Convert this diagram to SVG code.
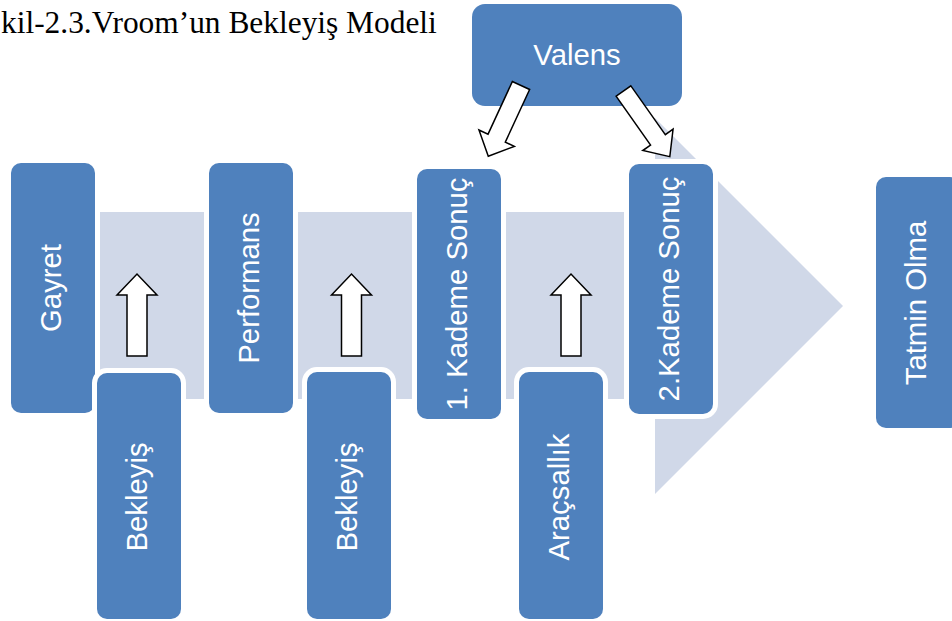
<svg xmlns="http://www.w3.org/2000/svg" width="952" height="621" viewBox="0 0 952 621">
<defs>
<style>
.box{fill:#4F81BD;stroke:#FFFFFF;stroke-width:10;paint-order:stroke}
.lbl{font-family:"Liberation Sans",Arial,sans-serif;font-size:29.3px;fill:#FFFFFF;text-anchor:middle}
.hollow{fill:#FFFFFF;stroke:#000000;stroke-width:1.5;stroke-linejoin:miter}
.band{fill:#D0D8E8}
</style>
<polygon id="varrow" points="0,-9.5 58,-9.5 58,-19.5 78,0 58,19.5 58,9.5 0,9.5"/>
</defs>
<rect width="952" height="621" fill="#FFFFFF"/>
<text x="1" y="33" font-family="'Liberation Serif','Times New Roman',serif" font-size="31.4" fill="#000000">kil-2.3.Vroom’un Bekleyiş Modeli</text>
<g id="process-arrow">
<polygon class="band" points="100,212 655,212 655,118 843,306 655,494 655,399 100,399"/>
</g>
<g id="n-gayret"><rect class="box" x="11" y="163" width="84" height="250" rx="10"/><text class="lbl" transform="translate(61,288) rotate(-90)">Gayret</text></g>
<g id="n-performans"><rect class="box" x="209" y="163" width="84" height="250" rx="10"/><text class="lbl" transform="translate(259,288) rotate(-90)">Performans</text></g>
<g id="n-kademe1"><rect class="box" x="417" y="169" width="84" height="250" rx="10"/><text class="lbl" transform="translate(467,294) rotate(-90)">1. Kademe Sonuç</text></g>
<g id="n-kademe2"><rect class="box" x="629" y="164" width="84" height="250" rx="10"/><text class="lbl" transform="translate(679,289) rotate(-90)">2.Kademe Sonuç</text></g>
<g id="n-tatmin"><rect class="box" x="876" y="177" width="84" height="251" rx="10"/><text class="lbl" transform="translate(926,303) rotate(-90)">Tatmin Olma</text></g>
<g id="n-bekleyis1"><rect class="box" x="97" y="373" width="84" height="246" rx="10"/><text class="lbl" transform="translate(147,497) rotate(-90)">Bekleyiş</text></g>
<g id="n-bekleyis2"><rect class="box" x="307" y="372" width="84" height="247" rx="10"/><text class="lbl" transform="translate(357,497) rotate(-90)">Bekleyiş</text></g>
<g id="n-aracsallik"><rect class="box" x="519" y="372" width="84" height="247" rx="10"/><text class="lbl" transform="translate(569,497) rotate(-90)">Araçsallık</text></g>
<g id="n-valens"><rect x="472" y="4" width="210" height="102" rx="13" fill="#4F81BD"/><text class="lbl" x="577" y="65">Valens</text></g>
<g id="connectors">
<path class="hollow" d="M127,356 V295 H117 L137,274 L157,295 H147 V356 Z"/>
<path class="hollow" d="M341.5,356 V295 H331.5 L351.5,274 L371.5,295 H361.5 V356 Z"/>
<path class="hollow" d="M561,356 V295 H551 L571,274 L591,295 H581 V356 Z"/>
<use href="#varrow" class="hollow" transform="translate(521,85.5) rotate(114.8)"/>
<use href="#varrow" class="hollow" transform="translate(623.5,91) rotate(54.8) scale(1.03,0.95)"/>
</g>
</svg>
